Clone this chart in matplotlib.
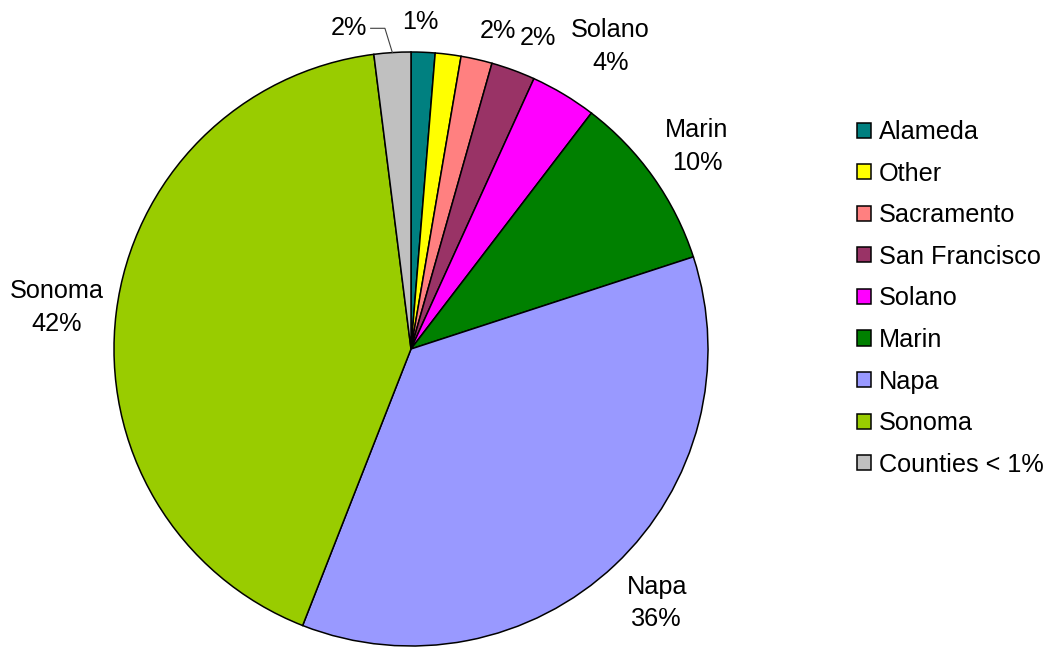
import numpy as np
import matplotlib
matplotlib.use('Agg')
from matplotlib import pyplot as plt

plt.rcParams['font.family'] = ['Liberation Sans', 'DejaVu Sans']

counties = ['Alameda', 'Other', 'Sacramento', 'San Francisco', 'Solano',
            'Marin', 'Napa', 'Sonoma', 'Counties < 1%']
shares = [1.3, 1.4, 1.7, 2.4, 3.6, 9.6, 36.0, 42.1, 2.0]
colors = ['#008080', '#FFFF00', '#FF8080', '#993366', '#FF00FF',
          '#008000', '#9999FF', '#99CC00', '#C0C0C0']
# which slices carry a name in their data label / which get a label at all
show_name = [False, False, False, False, True, True, True, True, False]
show_label = [True, False, True, True, True, True, True, True, True]
# label placement tweaks (radius factor, angle nudge in degrees)
label_dist = [1.10, 1.1, 1.11, 1.13, 1.22, 1.18, 1.19, 1.20, 1.10]
label_shift = [0.7, 0, -2.45, -2.05, -2.45, 0, 0.7, 0.45, 7.4]

W, H = 1055, 647
cx, cy, R = 411, 349, 297

fig = plt.figure(figsize=(W / 100, H / 100), dpi=100)
ax = fig.add_axes([0, 0, 1, 1])

wedges, _ = ax.pie(shares, colors=colors, startangle=90, counterclock=False,
                   wedgeprops=dict(edgecolor='black', linewidth=1.1))

fs = 18.2
for i, w in enumerate(wedges):
    if not show_label[i]:
        continue
    mid = np.deg2rad((w.theta1 + w.theta2) / 2 + label_shift[i])
    x, y = label_dist[i] * np.cos(mid), label_dist[i] * np.sin(mid)
    pct = '%d%%' % round(shares[i])
    txt = counties[i] + '\n' + pct if show_name[i] else pct
    ax.text(x, y, txt, ha='center', va='center', fontsize=fs, linespacing=1.45)
    if counties[i] == 'Counties < 1%':
        m = np.deg2rad((w.theta1 + w.theta2) / 2)
        ax.plot([x + 0.074, x + 0.122, np.cos(m)], [y, y, np.sin(m)],
                color='#404040', lw=0.8)

ax.legend(wedges, counties, loc='upper left', bbox_to_anchor=(847 / W, 1 - 110 / H),
          frameon=False, fontsize=fs, handlelength=0.55, handleheight=0.55,
          handletextpad=0.32, labelspacing=0.695, borderaxespad=0)

ax.set_aspect('auto')
ax.set_xlim(-cx / R, (W - cx) / R)
ax.set_ylim((cy - H) / R, cy / R)
ax.axis('off')

fig.savefig('out.png', dpi=100)
